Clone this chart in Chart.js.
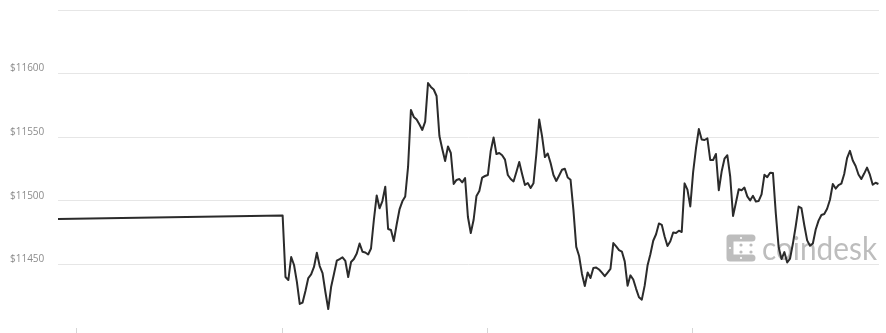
<!DOCTYPE html>
<html>
<head>
<meta charset="utf-8">
<script src="https://cdn.jsdelivr.net/npm/chart.js@4/dist/chart.umd.min.js"></script>
<style>
  html, body { margin: 0; padding: 0; background: #fff; }
  #wrap { width: 886px; height: 333px; position: relative; }
</style>
</head>
<body>
<div id="wrap"><canvas id="btc-chart"></canvas></div>
<script>
// first reading of the day, then the feed goes quiet until ~06:34
const openMinute = 0;
const openPrice = 11485.7;

// 5 minute samples from minute 394 to the end of the day
const firstMinute = 394;
const stepMinutes = 5;
const prices = [
  11488.4, 11440.1, 11437.7, 11455.8, 11449.5, 11436.2, 11418.9, 11420.0, 11429.1, 11439.3,
  11442.1, 11448.0, 11459.2, 11448.7, 11443.2, 11428.3, 11414.9, 11432.2, 11442.5, 11452.9,
  11454.2, 11455.6, 11452.7, 11440.1, 11451.9, 11454.2, 11458.6, 11466.4, 11460.0, 11459.4,
  11457.8, 11462.5, 11484.9, 11504.2, 11494.1, 11499.8, 11511.1, 11477.8, 11477.0, 11468.4,
  11481.4, 11493.2, 11499.6, 11503.4, 11526.6, 11571.4, 11565.9, 11563.9, 11560.0, 11555.7,
  11562.2, 11592.6, 11589.5, 11587.5, 11582.4, 11550.9, 11540.7, 11531.3, 11542.7, 11537.6,
  11513.2, 11516.4, 11517.1, 11514.5, 11517.9, 11487.3, 11474.7, 11485.1, 11503.8, 11507.7,
  11518.3, 11519.5, 11520.3, 11539.2, 11549.8, 11536.8, 11537.6, 11535.8, 11532.4, 11520.3,
  11517.1, 11515.2, 11522.6, 11530.5, 11521.1, 11512.4, 11514.0, 11510.1, 11513.8, 11536.8,
  11563.9, 11550.9, 11534.4, 11537.2, 11529.7, 11520.3, 11515.6, 11519.9, 11524.4, 11525.2,
  11518.3, 11516.5, 11492.8, 11463.8, 11456.6, 11442.5, 11433.0, 11443.6, 11439.3, 11447.2,
  11447.5, 11446.0, 11443.5, 11440.7, 11443.6, 11446.4, 11466.8, 11464.2, 11461.3, 11460.1,
  11452.4, 11433.3, 11441.4, 11438.1, 11430.8, 11424.2, 11422.3, 11433.3, 11449.1, 11458.0,
  11468.6, 11473.7, 11482.2, 11481.1, 11471.9, 11464.4, 11468.2, 11475.1, 11474.7, 11476.5,
  11475.5, 11513.7, 11508.8, 11495.6, 11522.6, 11541.3, 11556.4, 11548.2, 11547.8, 11549.1,
  11532.1, 11532.1, 11536.8, 11508.3, 11523.0, 11533.1, 11535.8, 11519.1, 11488.1, 11498.4,
  11509.1, 11508.3, 11510.4, 11503.5, 11500.2, 11503.9, 11499.5, 11499.9, 11505.1, 11520.4,
  11518.6, 11522.0, 11521.9, 11490.1, 11463.4, 11454.2, 11459.7, 11451.5, 11454.6, 11466.4,
  11480.2, 11495.5, 11494.2, 11480.8, 11468.9, 11464.6, 11466.4, 11477.4, 11484.4, 11488.8,
  11489.6, 11493.8, 11500.8, 11513.2, 11509.6, 11512.4, 11513.5, 11521.1, 11533.6, 11539.3,
  11531.7, 11527.4, 11520.7, 11517.1, 11521.4, 11526.1, 11520.5, 11512.6, 11514.2, 11513.2
];

// x axis tick marks (minutes), y axis labelled prices
const tickMinutes = [33, 393, 753, 1113];
const labelledPrices = [11450, 11500, 11550, 11600];

const points = [{ x: openMinute, y: openPrice }];
prices.forEach(function(p, i) {
  points.push({ x: firstMinute + i * stepMinutes, y: p });
});

// coindesk watermark, drawn under the line
const watermark = {
  id: 'watermark',
  beforeDatasetsDraw: function(chart) {
    const ctx = chart.ctx;
    ctx.save();
    ctx.strokeStyle = '#bdbdbd';
    ctx.lineWidth = 7;
    ctx.lineCap = 'round';
    ctx.lineJoin = 'round';
    ctx.beginPath();
    ctx.moveTo(752, 238);
    ctx.lineTo(730, 238);
    ctx.lineTo(730, 258);
    ctx.lineTo(752, 258);
    ctx.stroke();
    ctx.fillStyle = '#ffffff';
    [[741, 238], [741, 258], [730, 248]].forEach(function(c) {
      ctx.beginPath();
      ctx.arc(c[0], c[1], 1.1, 0, Math.PI * 2);
      ctx.fill();
    });
    ctx.fillStyle = '#bdbdbd';
    [[741, 245], [741, 252], [751, 245], [751, 252]].forEach(function(c) {
      ctx.beginPath();
      ctx.arc(c[0], c[1], 1.6, 0, Math.PI * 2);
      ctx.fill();
    });
    ctx.font = '33px Lato, "Open Sans", sans-serif';
    ctx.textBaseline = 'alphabetic';
    ctx.textAlign = 'left';
    ctx.fillText('coindesk', 762, 260, 115);
    ctx.restore();
  }
};

const ctx = document.getElementById('btc-chart').getContext('2d');
const chart = new Chart(ctx, {
  type: 'line',
  data: {
    datasets: [{
      data: points,
      borderColor: '#2b2b2b',
      borderWidth: 2,
      pointRadius: 0,
      tension: 0,
      fill: false,
      borderJoinStyle: 'round'
    }]
  },
  options: {
    responsive: true,
    maintainAspectRatio: false,
    animation: false,
    layout: { padding: { left: 10, right: 7, top: 10, bottom: 0 } },
    plugins: {
      legend: { display: false },
      tooltip: { enabled: false }
    },
    scales: {
      x: {
        type: 'linear',
        min: 0,
        max: 1440,
        afterBuildTicks: function(scale) {
          scale.ticks = tickMinutes.map(function(v) { return { value: v }; });
        },
        afterFit: function(scale) { scale.height = 5; },
        ticks: { display: false },
        grid: {
          drawOnChartArea: false,
          drawTicks: true,
          tickLength: 5,
          color: '#d6d6d6'
        },
        border: { display: false }
      },
      y: {
        min: 11400,
        max: 11650,
        afterFit: function(scale) {
          scale.width = 48;
          scale.paddingTop = 0;
          scale.paddingBottom = 0;
        },
        ticks: {
          stepSize: 50,
          crossAlign: 'far',
          labelOffset: -5,
          color: '#8c8c8c',
          font: { family: '"Open Sans", sans-serif', size: 10 },
          callback: function(v) {
            return labelledPrices.indexOf(v) >= 0 ? '$' + v : '';
          }
        },
        grid: {
          drawTicks: false,
          color: function(c) {
            return c.tick && c.tick.value === 11400 ? 'rgba(0,0,0,0)' : '#e6e6e6';
          }
        },
        border: { display: false }
      }
    }
  },
  plugins: [watermark]
});
</script>
</body>
</html>
